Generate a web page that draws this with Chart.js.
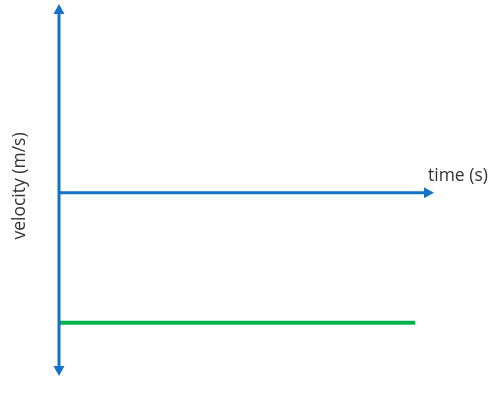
<!DOCTYPE html>
<html>
<head>
<meta charset="utf-8">
<script src="https://cdn.jsdelivr.net/npm/chart.js@4"></script>
<style>
html,body{margin:0;padding:0;background:#fff;}
#wrap{width:496px;height:402px;}
</style>
</head>
<body>
<div id="wrap"><canvas id="c"></canvas></div>
<script>
const timeValues = [0, 9.5];
const velocityValues = [-7.1, -7.1];
const xRange = [0, 10];
const yRange = [-10, 10.3];
const xLabel = "time (s)";
const yLabel = "velocity (m/s)";

const axisColor = "#1272C4";
const lineColor = "#00B24C";

const arrowAxes = {
  id: "arrowAxes",
  afterDatasetsDraw(chart) {
    const ctx = chart.ctx;
    const xs = chart.scales.x, ys = chart.scales.y;
    const x0 = xs.getPixelForValue(0);
    const y0 = ys.getPixelForValue(0);
    const top = ys.getPixelForValue(yRange[1]);
    const bottom = ys.getPixelForValue(yRange[0]);
    const right = xs.getPixelForValue(xRange[1]);
    ctx.save();
    ctx.strokeStyle = axisColor;
    ctx.fillStyle = axisColor;
    ctx.lineWidth = 3;
    ctx.lineCap = "butt";
    const L = 10, W = 5.5;
    ctx.beginPath();
    ctx.moveTo(x0, top + L - 1);
    ctx.lineTo(x0, bottom - L + 1);
    ctx.stroke();
    ctx.beginPath();
    ctx.moveTo(x0, top); ctx.lineTo(x0 - W, top + L); ctx.lineTo(x0 + W, top + L); ctx.closePath(); ctx.fill();
    ctx.beginPath();
    ctx.moveTo(x0, bottom); ctx.lineTo(x0 - W, bottom - L); ctx.lineTo(x0 + W, bottom - L); ctx.closePath(); ctx.fill();
    ctx.beginPath();
    ctx.moveTo(x0, y0);
    ctx.lineTo(right - L + 1, y0);
    ctx.stroke();
    ctx.beginPath();
    ctx.moveTo(right, y0); ctx.lineTo(right - L, y0 - W); ctx.lineTo(right - L, y0 + W); ctx.closePath(); ctx.fill();
    ctx.fillStyle = "#333333";
    ctx.font = "17.5px 'Open Sans'";
    ctx.textAlign = "left";
    ctx.textBaseline = "middle";
    ctx.fillText(xLabel, right - 6, y0 - 17);
    ctx.save();
    ctx.translate(x0 - 39, (top + bottom) / 2 - 4);
    ctx.rotate(-Math.PI / 2);
    ctx.textAlign = "center";
    ctx.fillText(yLabel, 0, 0);
    ctx.restore();
    ctx.restore();
  }
};

new Chart(document.getElementById("c"), {
  type: "line",
  data: {
    datasets: [{
      data: timeValues.map((t, i) => ({ x: t, y: velocityValues[i] })),
      borderColor: lineColor,
      borderWidth: 4,
      borderCapStyle: "butt",
      pointRadius: 0,
      fill: false
    }]
  },
  options: {
    responsive: true,
    maintainAspectRatio: false,
    animation: false,
    layout: { padding: { left: 59, right: 62, top: 4, bottom: 26 } },
    plugins: { legend: { display: false }, tooltip: { enabled: false } },
    scales: {
      x: { type: "linear", min: xRange[0], max: xRange[1], display: false },
      y: { type: "linear", min: yRange[0], max: yRange[1], display: false }
    }
  },
  plugins: [arrowAxes]
});
</script>
</body>
</html>
